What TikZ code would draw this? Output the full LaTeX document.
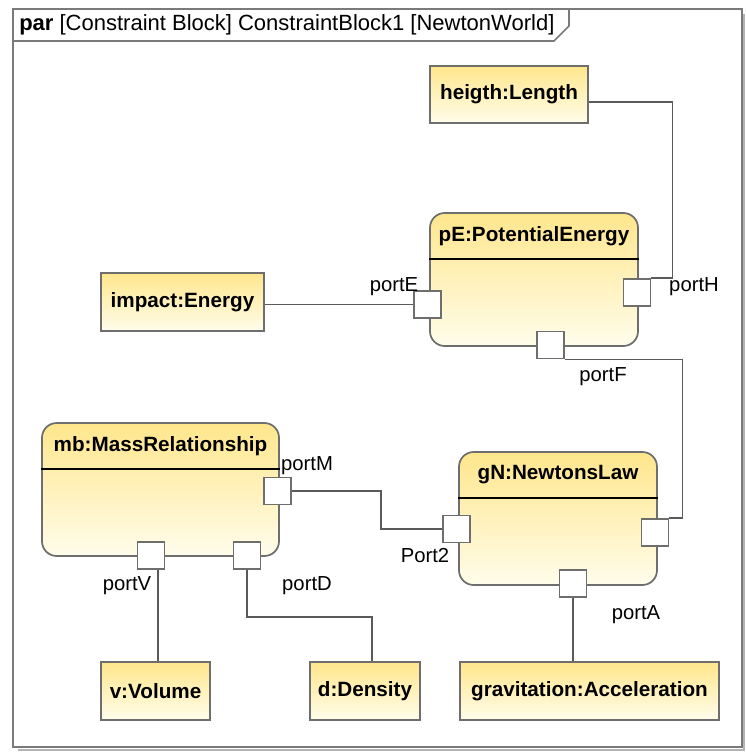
\documentclass[tikz,border=0pt]{standalone}
\usepackage{fontspec}
\setmainfont{Liberation Sans}
\usetikzlibrary{fit,calc}
\definecolor{ytop}{HTML}{FFE68C}
\definecolor{ybot}{HTML}{FFFDEB}
\definecolor{edgec}{HTML}{6E6E6E}
\definecolor{wirec}{HTML}{5A5A5A}
\definecolor{framec}{HTML}{7A7A7A}
\definecolor{shadowc}{HTML}{B4B4B4}
\begin{document}
\begin{tikzpicture}[x=0.75pt,y=-0.75pt,
  valbox/.style={draw=edgec, line width=1.3pt, top color=ytop, bottom color=ybot, inner sep=0pt,
    font=\bfseries\fontsize{15.5}{18}\selectfont},
  cblock/.style={draw=edgec, line width=1.3pt, top color=ytop, bottom color=ybot, inner sep=0pt,
    rounded corners=11pt},
  hdr/.style={font=\bfseries\fontsize{15.5}{18}\selectfont, inner sep=0pt},
  portbox/.style={draw=edgec, line width=1.3pt, fill=white, minimum size=20.25pt, inner sep=0pt},
  plabel/.style={font=\fontsize{15.2}{17}\selectfont, inner sep=0pt},
  wire/.style={draw=wirec, line width=1.1pt},
  hline/.style={draw=black, line width=1pt}
]
\useasboundingbox (0,0) rectangle (745,752);
% frame
\draw[shadowc, line width=2.2pt] (18,750) -- (744,750) -- (744,14);
\draw[framec, line width=1.5pt] (13,9) rectangle (742,747);
\draw[framec, line width=1.2pt] (13,41) -- (554,41) -- (569,26) -- (569,9);
\node[anchor=west, inner sep=0pt, font=\fontsize{16.5}{19}\selectfont] (title) at (19,25)
  {\textbf{par} [Constraint Block] ConstraintBlock1 [NewtonWorld]};

% value boxes
\node[valbox, fit={(430,66) (588,123)}] (hl) {};
\node[hdr] at (hl.center) {heigth:Length};
\node[valbox, fit={(101,273) (264,331)}] (imp) {};
\node[hdr] at (imp.center) {impact:Energy};
\node[valbox, fit={(101,662) (210,720)}] (vol) {};
\node[hdr] at (vol.center) {v:Volume};
\node[valbox, fit={(310,662) (420,720)}] (den) {};
\node[hdr] at (den.center) {d:Density};
\node[valbox, fit={(460,662) (719,720)}] (grav) {};
\node[hdr] at (grav.center) {gravitation:Acceleration};

% constraint blocks
\node[cblock, fit={(430,213) (638,346)}] (pE) {};
\draw[hline] (pE.west |- 0,259) -- (pE.east |- 0,259);
\node[hdr] (pEt) at (534,236) {pE:PotentialEnergy};

\node[cblock, fit={(42,423) (279,556)}] (mb) {};
\draw[hline] (mb.west |- 0,469) -- (mb.east |- 0,469);
\node[hdr] (mbt) at (160.5,446) {mb:MassRelationship};

\node[cblock, fit={(459,452) (657,585)}] (gN) {};
\draw[hline] (gN.west |- 0,498) -- (gN.east |- 0,498);
\node[hdr] (gNt) at (558,475) {gN:NewtonsLaw};

% ports
\node[portbox] (pPE) at (427.5,304.5) {};
\node[portbox] (pPH) at (637,292.5) {};
\node[portbox] (pPF) at (550.5,345) {};
\node[portbox] (pPM) at (277.5,491) {};
\node[portbox] (pPV) at (151,555.5) {};
\node[portbox] (pPD) at (247,555.5) {};
\node[portbox] (pP2) at (456.5,529) {};
\node[portbox] (pGR) at (655,532.5) {};
\node[portbox] (pPA) at (573,583.5) {};

% port labels
\node[plabel] (lE) at (394,287) {portE};
\node[plabel] (lH) at (694,287) {portH};
\node[plabel] (lF) at (603,377) {portF};
\node[plabel] (lM) at (307,466) {portM};
\node[plabel] (lV) at (127,586) {portV};
\node[plabel] (lD) at (307,586) {portD};
\node[plabel] (l2) at (425,556) {Port2};
\node[plabel] (lA) at (636,615) {portA};

% connectors
\coordinate (vTop) at ($(pPV.south)+(7,0)$);
\draw[wire] ($(hl.east)+(0,7.5)$) -| ($(pPH.north east)+(21,0)$) -- (pPH.north east);
\draw[wire] (imp.east |- pPE.west) -- (pPE.west);
\draw[wire] (pPF.south east) -| ($(pGR.north east)+(13,0)$) -- (pGR.north east);
\draw[wire] (pPM.east) -- ++(89,0) |- (pP2.west);
\draw[wire] (vTop) -- (vTop |- vol.north);
\draw[wire] (pPD.south) -- ++(0,47) -| ($(den.north)+(7,0)$);
\draw[wire] (pPA.south) -- (pPA.south |- grav.north);
\end{tikzpicture}
\end{document}
